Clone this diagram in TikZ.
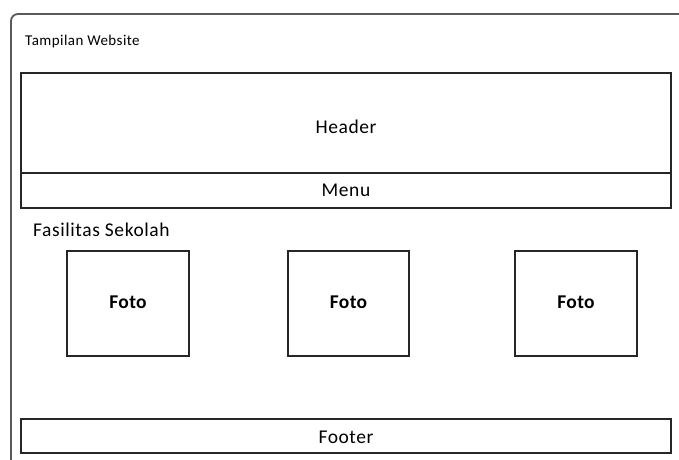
\documentclass[tikz,border=0pt]{standalone}
\usepackage{fontspec}
\setmainfont{Carlito}
\begin{document}
\begin{tikzpicture}[x=1pt,y=-1pt,
  box/.style={draw=black!85,line width=1.2pt},
  outer/.style={draw=black!65,line width=1.8pt,rounded corners=7pt},
  lbl/.style={inner sep=0pt,font=\fontsize{19.5}{22}\selectfont\addfontfeatures{LetterSpace=3}},
  small/.style={inner sep=0pt,font=\fontsize{15}{17}\selectfont\addfontfeatures{LetterSpace=3}},
  bold/.style={inner sep=0pt,font=\fontsize{19.5}{22}\selectfont\bfseries\addfontfeatures{LetterSpace=2}}]
\useasboundingbox (0,0) rectangle (679,459);
\begin{scope}
\clip (0,0) rectangle (679,459);
\draw[outer] (11,14) rectangle (700,480);
\end{scope}
\node[small,anchor=base west] (title) at (25,45) {Tampilan Website};
\draw[box] (21,73) rectangle (671,208);
\draw[box] (21,173) -- (671,173);
\node[lbl,anchor=base] (header) at (346,133) {Header};
\node[lbl,anchor=base] (menu) at (346,196) {Menu};
\node[lbl,anchor=base west] (fas) at (33,236) {Fasilitas Sekolah};
\draw[box] (67,251) rectangle (189,356);
\draw[box] (288,251) rectangle (409,356);
\draw[box] (515,251) rectangle (637,356);
\node[bold,anchor=base] (f1) at (128,308) {Foto};
\node[bold,anchor=base] (f2) at (348.5,308) {Foto};
\node[bold,anchor=base] (f3) at (576,308) {Foto};
\draw[box] (21,419) rectangle (671,453);
\node[lbl,anchor=base] (footer) at (346,443) {Footer};
\end{tikzpicture}
\end{document}
